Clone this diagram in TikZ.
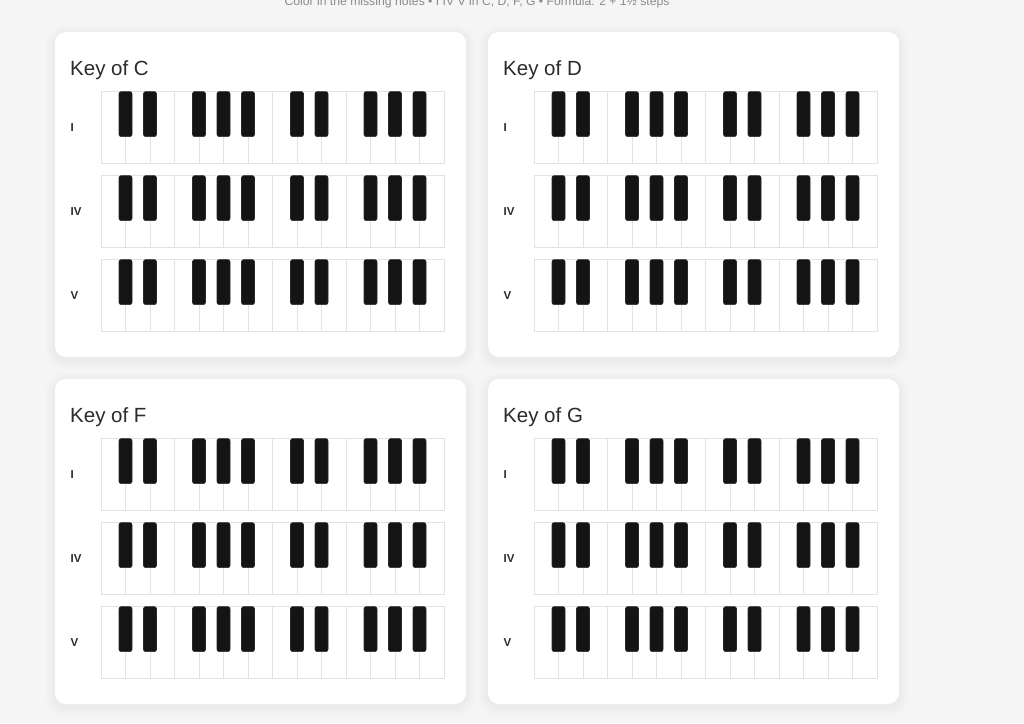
\documentclass[tikz,border=0pt]{standalone}
\usepackage{fontspec}
\setmainfont{Liberation Sans}

\definecolor{pagebg}{HTML}{F5F5F5}
\definecolor{keyline}{HTML}{E2E2E2}
\definecolor{keyblack}{HTML}{141414}
\definecolor{keyedge}{HTML}{2A2A2A}
\definecolor{titlegray}{HTML}{2B2B2B}
\definecolor{notegray}{HTML}{8A8A8A}

\tikzset{
  whitekey/.style={draw=keyline, line width=0.9pt, fill=white},
  blackkey/.style={fill=keyblack, draw=keyedge, line width=0.6pt, rounded corners=2.2pt},
  cardbox/.style={fill=white, rounded corners=11pt},
  keytitle/.style={anchor=base west, inner sep=0pt, text=titlegray,
    font=\fontsize{20.5}{24}\selectfont},
  rowlabel/.style={anchor=west, inner sep=0pt, text=titlegray,
    font=\bfseries\fontsize{11.5}{13}\selectfont},
}

% two octaves, left and top edge
\newcommand{\keyboard}[2]{%
  \foreach \i in {0,...,13}
    \draw[whitekey] ({#1+\i*24.5},#2) rectangle ++(24.5,72);
  \foreach \k in {1,2,4,5,6,8,9,11,12,13}
    \filldraw[blackkey] ({#1+\k*24.5-6.5},#2+0.3) rectangle ++(13,45);
}

% one card: left, top, key name
\newcommand{\keycard}[3]{%
  \foreach \s [evaluate=\s as \r using 11+\s] in {1,...,10}
    \fill[black, opacity=0.0045, rounded corners=\r pt]
      (#1-\s,#2-\s+3) rectangle (#1+411+\s,#2+325+\s+3);
  \fill[cardbox] (#1,#2) rectangle ++(411,325);
  \node[keytitle] (title#3) at (#1+15,#2+43) {Key of #3};
  \node[rowlabel] (one#3) at (#1+15.5,#2+95.3) {I};
  \node[rowlabel] (four#3) at (#1+15.5,#2+179.3) {IV};
  \node[rowlabel] (five#3) at (#1+15.5,#2+263.3) {V};
  \keyboard{#1+46}{#2+59.3}
  \keyboard{#1+46}{#2+143.3}
  \keyboard{#1+46}{#2+227.3}
}

\begin{document}
\begin{tikzpicture}[x=1pt,y=-1pt]
\useasboundingbox (0,0) rectangle (1024,723);
\fill[pagebg] (0,0) rectangle (1024,723);

\node[anchor=base, inner sep=0pt, text=notegray, font=\fontsize{12.2}{15}\selectfont]
  (note) at (477,5) {Color in the missing notes • I IV V in C, D, F, G • Formula: 2 + 1½ steps};

\keycard{55}{32}{C}
\keycard{488}{32}{D}
\keycard{55}{379}{F}
\keycard{488}{379}{G}
\end{tikzpicture}
\end{document}
